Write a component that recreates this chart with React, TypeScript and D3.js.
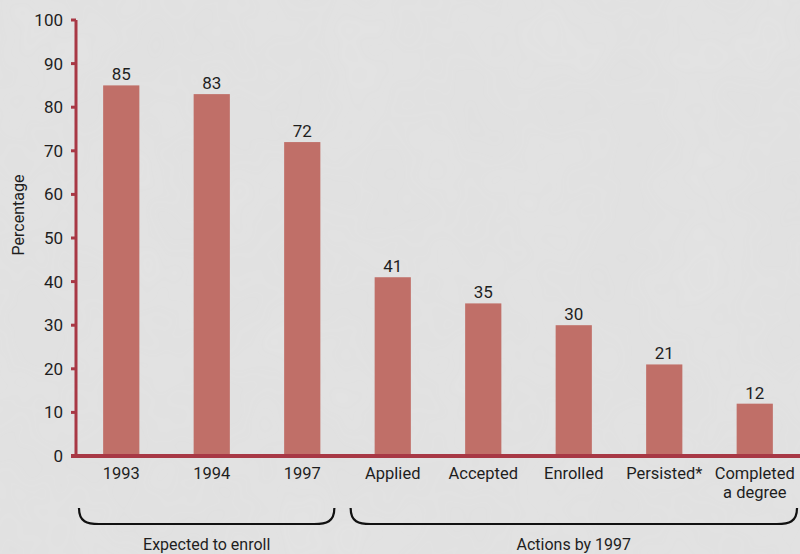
import * as d3 from "d3";

const categories = ["1993", "1994", "1997", "Applied", "Accepted", "Enrolled", "Persisted*", "Completed\na degree"];
const values = [85, 83, 72, 41, 35, 30, 21, 12];
const yTicks = [0, 10, 20, 30, 40, 50, 60, 70, 80, 90, 100];
const groups = [
  { label: "Expected to enroll", from: 0, to: 2 },
  { label: "Actions by 1997", from: 3, to: 7 },
];

const WIDTH = 800;
const HEIGHT = 554;
const AXIS_X = 76;
const TOP = 20;
const BOTTOM = 456;
const FONT = "'Roboto', 'Liberation Sans', sans-serif";
const BAR_COLOR = "#c06f68";
const AXIS_COLOR = "#a83845";

export default function App() {
  const x = d3.scaleBand<string>().domain(categories).range([AXIS_X, WIDTH]).paddingInner(0.6).paddingOuter(0.3);
  const y = d3.scaleLinear().domain([0, 100]).range([BOTTOM, TOP]);

  const brace = (x0: number, x1: number) => {
    const top = 508;
    const bot = 524;
    const path = d3.path();
    path.moveTo(x0, top);
    path.bezierCurveTo(x0, bot - 2, x0 + 8, bot, x0 + 20, bot);
    path.lineTo(x1 - 20, bot);
    path.bezierCurveTo(x1 - 8, bot, x1, bot - 2, x1, top);
    return path.toString();
  };

  return (
    <svg width={WIDTH} height={HEIGHT} style={{ position: "absolute", left: 0, top: 0 }} fontFamily={FONT}>
      <defs>
        <filter id="marble" x="0" y="0" width="100%" height="100%">
          <feTurbulence type="fractalNoise" baseFrequency="0.012" numOctaves={3} seed={4} />
          <feColorMatrix type="matrix" values="0 0 0 0 0.5  0 0 0 0 0.5  0 0 0 0 0.5  0 0 0 0.12 0" />
        </filter>
      </defs>
      <rect width={WIDTH} height={HEIGHT} fill="#e3e3e3" />
      <rect width={WIDTH} height={HEIGHT} filter="url(#marble)" opacity={0.6} />

      {/* bars */}
      {categories.map((c, i) => (
        <g key={c}>
          <rect x={x(c)} y={y(values[i])} width={x.bandwidth()} height={BOTTOM - y(values[i])} fill={BAR_COLOR} />
          <text x={x(c)! + x.bandwidth() / 2} y={y(values[i]) - 5} textAnchor="middle" fontSize={17} fill="#1e1e1e">
            {values[i]}
          </text>
        </g>
      ))}

      {/* y axis */}
      <line x1={AXIS_X} x2={AXIS_X} y1={TOP} y2={BOTTOM} stroke={AXIS_COLOR} strokeWidth={3} />
      {yTicks.map((t) => (
        <g key={t}>
          <line x1={AXIS_X - 5} x2={AXIS_X} y1={y(t)} y2={y(t)} stroke={AXIS_COLOR} strokeWidth={3} />
          <text x={63} y={y(t)} dy="0.35em" textAnchor="end" fontSize={17} fill="#1e1e1e">
            {t}
          </text>
        </g>
      ))}
      <line x1={AXIS_X - 5} x2={WIDTH} y1={BOTTOM} y2={BOTTOM} stroke={AXIS_COLOR} strokeWidth={4} />

      <text transform={`translate(24, 215) rotate(-90)`} textAnchor="middle" fontSize={16} fill="#1e1e1e">
        Percentage
      </text>

      {/* category labels */}
      {categories.map((c) =>
        c.split("\n").map((line, j) => (
          <text key={c + j} x={x(c)! + x.bandwidth() / 2} y={479 + j * 19} textAnchor="middle" fontSize={16.5} fill="#1e1e1e">
            {line}
          </text>
        ))
      )}

      {/* group braces */}
      {groups.map((g, i) => {
        const x0 = i === 0 ? 79 : x(categories[g.from])! - 24;
        const x1 = i === 0 ? x(categories[g.to])! + x.bandwidth() + 14 : WIDTH - 3;
        return (
          <g key={g.label}>
            <path d={brace(x0, x1)} fill="none" stroke="#111" strokeWidth={2.2} />
            <text x={(x0 + x1) / 2} y={550} textAnchor="middle" fontSize={16} fill="#1e1e1e">
              {g.label}
            </text>
          </g>
        );
      })}
    </svg>
  );
}
